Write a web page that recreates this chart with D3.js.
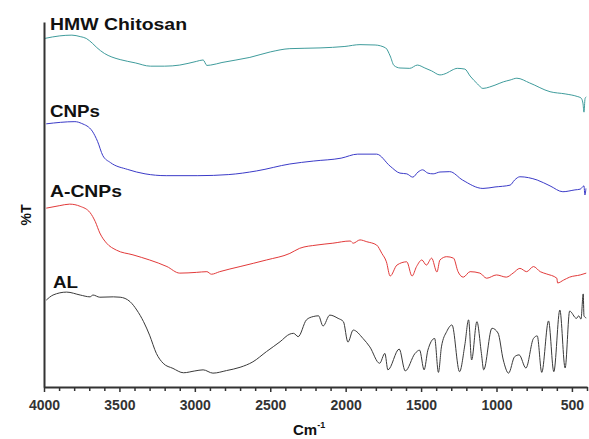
<!DOCTYPE html>
<html>
<head>
<meta charset="utf-8">
<script src="https://cdn.jsdelivr.net/npm/d3@7"></script>
<style>
  body { margin: 0; background: #fff; }
  svg { display: block; font-family: "Liberation Sans", Arial, sans-serif; }
</style>
</head>
<body>
<div id="chart"></div>
<script>
// DATA  (wavenumber in cm-1, %T on a stacked, arbitrary scale)
const majorTicks = [4000, 3500, 3000, 2500, 2000, 1500, 1000, 500];

const hmwChitosan = [
  [3995, 95.5], [3895, 96.2], [3815, 96.4], [3760, 96.0], [3720, 95.5], [3680, 94.2],
  [3650, 93.0], [3600, 91.4], [3550, 90.4], [3495, 89.7], [3395, 88.8], [3295, 87.9],
  [3200, 87.9], [3100, 88.2], [2990, 89.2], [2945, 89.6], [2920, 88.1], [2895, 88.2],
  [2820, 88.9], [2635, 90.3], [2500, 91.8], [2370, 92.7], [2170, 92.9], [2005, 93.3],
  [1905, 93.8], [1805, 93.7], [1735, 92.9], [1705, 90.7], [1680, 88.1], [1640, 87.4],
  [1575, 87.3], [1525, 88.2], [1475, 87.4], [1430, 86.6], [1375, 85.5], [1330, 86.0],
  [1295, 86.8], [1260, 87.3], [1210, 87.1], [1175, 85.2], [1125, 83.0], [1090, 81.8],
  [1045, 82.2], [1010, 82.7], [955, 83.6], [910, 84.1], [865, 84.6], [780, 83.3],
  [645, 80.9], [545, 80.3], [465, 79.6], [440, 79.2], [427, 77.8], [420, 75.3],
  [413, 79.0], [405, 79.5]
];

const cnps = [
  [3985, 72.1], [3795, 72.7], [3750, 72.2], [3680, 70.1], [3645, 67.3], [3610, 63.4],
  [3560, 61.5], [3445, 59.6], [3330, 58.4], [3190, 57.9], [2980, 57.9], [2775, 58.2],
  [2590, 59.2], [2370, 61.1], [2215, 61.9], [2030, 62.7], [1920, 63.8], [1795, 63.8],
  [1705, 60.5], [1640, 58.6], [1595, 58.4], [1555, 57.5], [1520, 58.9], [1490, 59.5],
  [1455, 58.6], [1420, 58.4], [1375, 58.9], [1310, 59.0], [1225, 56.7], [1090, 54.4],
  [1010, 54.8], [910, 55.3], [880, 56.7], [845, 57.6], [730, 56.7], [645, 55.1],
  [560, 53.5], [480, 54.0], [445, 54.2], [420, 55.1], [414, 52.6], [407, 54.4]
];

const aCnps = [
  [3985, 49.0], [3895, 49.7], [3830, 50.1], [3760, 49.5], [3695, 47.8], [3660, 45.3],
  [3630, 42.2], [3585, 39.4], [3520, 37.5], [3410, 36.2], [3300, 34.8], [3185, 33.0],
  [3100, 31.2], [2990, 31.4], [2920, 31.6], [2890, 30.9], [2835, 31.6], [2700, 33.0],
  [2525, 34.8], [2370, 36.6], [2305, 38.0], [2190, 38.9], [2085, 39.4], [1970, 40.0],
  [1950, 39.4], [1905, 40.3], [1860, 39.8], [1795, 38.9], [1760, 36.6], [1730, 34.3],
  [1705, 30.4], [1660, 33.4], [1595, 34.3], [1560, 30.4], [1530, 33.0], [1495, 34.8],
  [1465, 33.4], [1430, 35.3], [1395, 31.5], [1375, 34.8], [1330, 35.7], [1285, 35.3],
  [1255, 31.6], [1220, 30.1], [1175, 31.6], [1110, 31.2], [1065, 29.8], [1000, 30.7],
  [935, 30.1], [890, 31.2], [845, 32.5], [800, 31.6], [755, 33.0], [710, 31.6],
  [670, 31.0], [600, 29.8], [595, 28.5], [555, 29.3], [515, 30.1], [445, 30.7],
  [405, 31.2]
];

const al = [
  [3985, 23.8], [3940, 25.2], [3850, 26.0], [3760, 25.2], [3695, 24.7], [3675, 25.2],
  [3630, 24.6], [3540, 24.7], [3495, 24.6], [3430, 23.4], [3385, 21.1], [3340, 17.9],
  [3300, 14.2], [3255, 9.2], [3210, 6.5], [3145, 5.1], [3075, 3.9], [3000, 4.4],
  [2945, 4.7], [2880, 3.8], [2790, 4.5], [2700, 5.4], [2615, 6.9], [2525, 9.7],
  [2435, 12.4], [2370, 14.5], [2345, 14.7], [2315, 13.8], [2260, 18.4], [2215, 19.3],
  [2180, 19.5], [2150, 16.7], [2105, 19.7], [2050, 18.8], [2015, 17.9], [1985, 12.3],
  [1950, 15.6], [1885, 13.3], [1840, 11.0], [1775, 6.5], [1740, 9.2], [1720, 4.7],
  [1645, 10.4], [1605, 4.4], [1540, 9.2], [1510, 10.1], [1480, 4.7], [1455, 10.1],
  [1410, 13.3], [1385, 4.0], [1365, 11.0], [1330, 15.2], [1295, 17.0], [1245, 4.2],
  [1210, 11.5], [1185, 18.4], [1165, 7.4], [1130, 17.9], [1100, 9.2], [1085, 4.7],
  [1030, 16.1], [990, 14.8], [955, 7.4], [920, 3.8], [880, 8.3], [850, 8.8],
  [805, 5.2], [755, 13.3], [730, 14.0], [700, 4.0], [655, 18.1], [620, 4.2],
  [580, 21.1], [545, 5.2], [515, 20.8], [470, 18.8], [455, 19.5], [440, 18.6],
  [425, 25.5], [420, 19.5], [405, 18.9]
];

const seriesNames = ["HMW Chitosan", "CNPs", "A-CNPs", "AL"];

// LAYOUT
const width = 589, height = 439;
const margin = { top: 22, right: 2, bottom: 52, left: 44 };

const series = [
  { name: seriesNames[0], values: hmwChitosan, color: "#3f9c9c", labelY: 30, labelW: 137 },
  { name: seriesNames[1], values: cnps, color: "#3b3bc8", labelY: 117, labelW: 50 },
  { name: seriesNames[2], values: aCnps, color: "#e23a3a", labelY: 197, labelW: 72 },
  { name: seriesNames[3], values: al, color: "#3a3a3a", labelY: 288, labelW: 25, labelX: 53 }
];

const svg = d3.select("#chart")
  .append("svg")
  .attr("width", width)
  .attr("height", height);

const x = d3.scaleLinear()
  .domain([4000, 400])
  .range([margin.left, width - margin.right]);

const y = d3.scaleLinear()
  .domain([0, 100])
  .range([height - margin.bottom, margin.top]);

//CURVES
const line = d3.line()
  .x((d) => x(d[0]))
  .y((d) => y(d[1]))
  .curve(d3.curveMonotoneX);

svg.append("g")
  .selectAll("path")
  .data(series)
  .join("path")
  .attr("fill", "none")
  .attr("stroke", (d) => d.color)
  .attr("stroke-width", 1)
  .attr("stroke-linejoin", "round")
  .attr("d", (d) => line(d.values));

//SERIES LABELS
svg.append("g")
  .selectAll("text")
  .data(series)
  .join("text")
  .attr("x", (d) => d.labelX || 50)
  .attr("y", (d) => d.labelY)
  .attr("textLength", (d) => d.labelW)
  .attr("lengthAdjust", "spacingAndGlyphs")
  .attr("font-size", 16.5)
  .attr("font-weight", "bold")
  .attr("fill", "#111")
  .text((d) => d.name);

//AXES
const minorTicks = d3.range(4000, 399, -100).filter((t) => !majorTicks.includes(t));

svg.append("g")
  .attr("transform", `translate(0,${height - margin.bottom})`)
  .call(d3.axisBottom(x).tickValues(minorTicks).tickSize(4).tickFormat("").tickSizeOuter(0))
  .call((g) => g.select(".domain").remove())
  .call((g) => g.selectAll("line").attr("stroke", "#333").attr("stroke-width", 1.5));

const xAxis = svg.append("g")
  .attr("transform", `translate(0,${height - margin.bottom})`)
  .call(d3.axisBottom(x)
    .tickValues(majorTicks)
    .tickFormat(d3.format("d"))
    .tickSize(5)
    .tickPadding(8)
    .tickSizeOuter(0));

xAxis.select(".domain").attr("stroke", "#333").attr("stroke-width", 2);
xAxis.selectAll("line").attr("stroke", "#333").attr("stroke-width", 1.5);
xAxis.selectAll("text")
  .attr("font-size", 14)
  .attr("font-weight", "bold")
  .attr("fill", "#333")
  .attr("font-family", "Liberation Sans, Arial, sans-serif");

const yAxis = svg.append("g")
  .attr("transform", `translate(${margin.left},0)`)
  .call(d3.axisLeft(y).tickValues([]).tickSizeOuter(0));

yAxis.select(".domain").attr("stroke", "#333").attr("stroke-width", 2);

//AXIS TITLES
const xTitle = svg.append("text")
  .attr("x", 293)
  .attr("y", 435)
  .attr("font-size", 15)
  .attr("font-weight", "bold")
  .attr("fill", "#111");

xTitle.append("tspan").text("Cm");
xTitle.append("tspan")
  .attr("dy", -7)
  .attr("font-size", 9)
  .text("-1");

svg.append("text")
  .attr("transform", "translate(31,215) rotate(-90)")
  .attr("text-anchor", "middle")
  .attr("font-size", 14)
  .attr("font-weight", "bold")
  .attr("fill", "#111")
  .text("%T");
</script>
</body>
</html>
